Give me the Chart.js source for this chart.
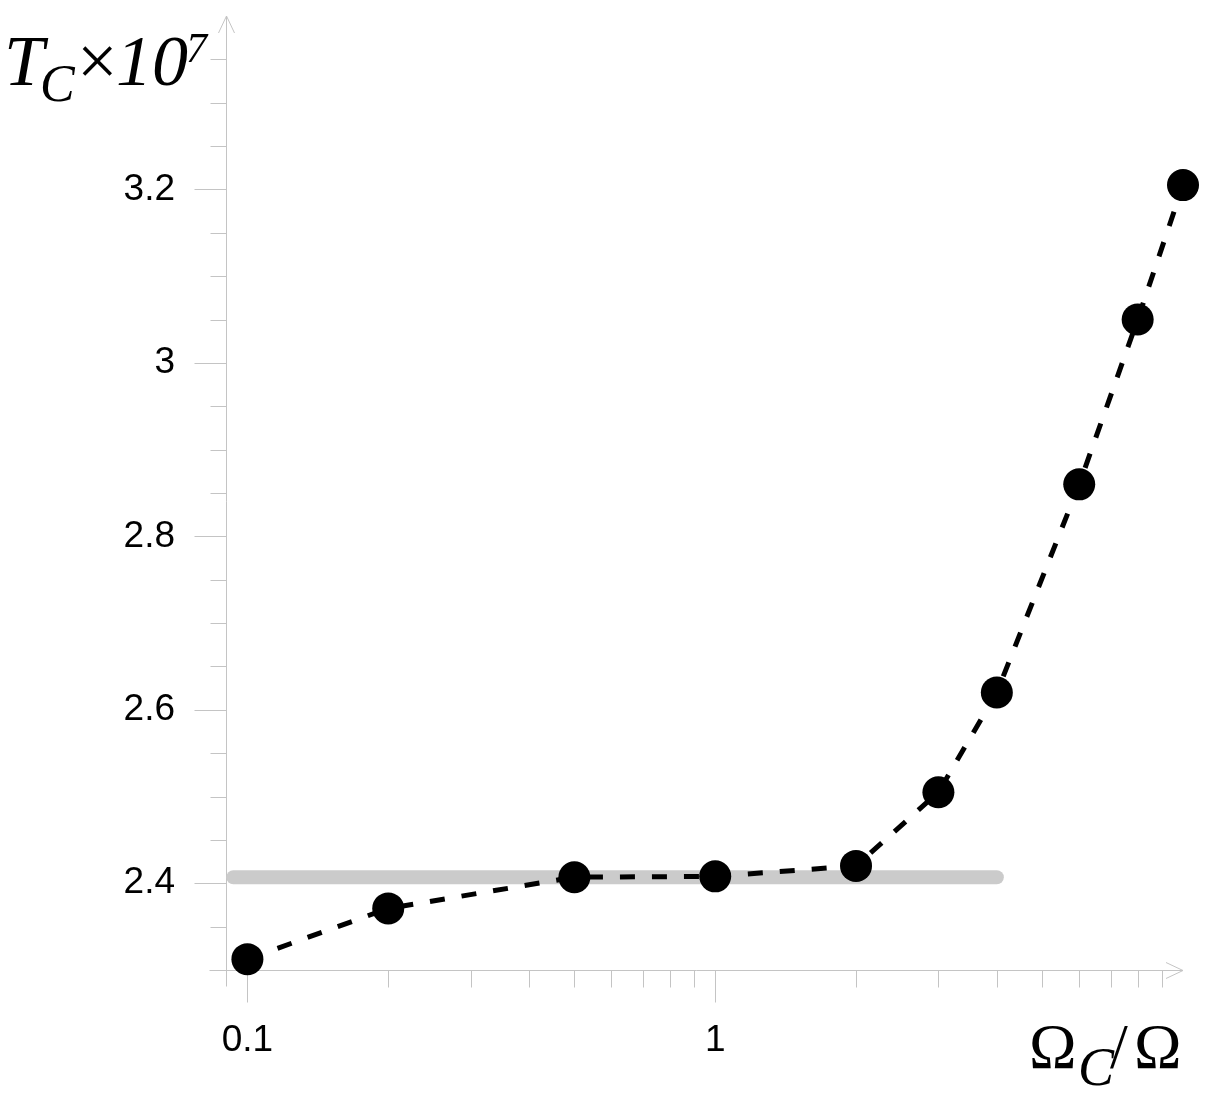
<!DOCTYPE html>
<html>
<head>
<meta charset="utf-8">
<script src="https://cdn.jsdelivr.net/npm/chart.js@4/dist/chart.umd.min.js"></script>
<style>
  html, body { margin: 0; padding: 0; background: #fff; }
  #wrap { width: 1220px; height: 1094px; }
</style>
</head>
<body>
<div id="wrap"><canvas id="c" width="1220" height="1094"></canvas></div>
<script>
// ---- data ----
const omegaRatio = [0.1, 0.2, 0.5, 1, 2, 3, 4, 6, 8, 10];
const tcValues   = [2.3125, 2.371, 2.407, 2.408, 2.420, 2.505, 2.620, 2.860, 3.050, 3.205];
const refLineX   = [0.0933, 4];
const refLineY   = [2.407, 2.407];

// ---- axis ticks ----
const xMajorTicks = [0.1, 1];
const xTickLabels = ['0.1', '1'];
const xMinorTicks = [0.2, 0.3, 0.4, 0.5, 0.6, 0.7, 0.8, 0.9, 2, 3, 4, 5, 6, 7, 8, 9];
const yMajorTicks = [2.4, 2.6, 2.8, 3.0, 3.2];
const yTickLabels = ['2.4', '2.6', '2.8', '3', '3.2'];
const yMinorTicks = [2.3, 2.35, 2.45, 2.5, 2.55, 2.65, 2.7, 2.75, 2.85, 2.9, 2.95, 3.05, 3.1, 3.15, 3.25, 3.3, 3.35];
const xRange = [0.09, 10];
const yRange = [2.3, 3.4];

const AXIS_COLOR = '#c4c4c4';

function labelFor(v, majors, labels) {
  for (let i = 0; i < majors.length; i++) {
    if (Math.abs(v - majors[i]) < 1e-6) return labels[i];
  }
  return '';
}

const axesPlugin = {
  id: 'axesPlugin',
  beforeDatasetsDraw(chart) {
    const { ctx, chartArea: a, scales } = chart;
    const xs = scales.x, ys = scales.y;
    const L = Math.round(a.left) + 0.5;
    const B = Math.round(a.bottom) + 0.5;
    const T = a.top, R = a.right;
    ctx.save();
    ctx.strokeStyle = AXIS_COLOR;
    ctx.lineWidth = 1;
    ctx.beginPath();
    // vertical axis
    ctx.moveTo(L, B + 16); ctx.lineTo(L, T);
    ctx.moveTo(L - 8, T + 17); ctx.lineTo(L, T); ctx.lineTo(L + 8, T + 17);
    // horizontal axis
    ctx.moveTo(L - 17, B); ctx.lineTo(R, B);
    ctx.moveTo(R - 17, B - 8); ctx.lineTo(R, B); ctx.lineTo(R - 17, B + 8);
    // y ticks
    yMajorTicks.forEach(v => {
      const p = Math.round(ys.getPixelForValue(v)) + 0.5;
      ctx.moveTo(L - 32, p); ctx.lineTo(L, p);
    });
    yMinorTicks.forEach(v => {
      const p = Math.round(ys.getPixelForValue(v)) + 0.5;
      ctx.moveTo(L - 16, p); ctx.lineTo(L, p);
    });
    // x ticks
    xMajorTicks.forEach(v => {
      const p = Math.round(xs.getPixelForValue(v)) + 0.5;
      ctx.moveTo(p, B); ctx.lineTo(p, B + 32);
    });
    xMinorTicks.forEach(v => {
      const p = Math.round(xs.getPixelForValue(v)) + 0.5;
      ctx.moveTo(p, B); ctx.lineTo(p, B + 17);
    });
    ctx.stroke();
    ctx.restore();
  },
  afterDraw(chart) {
    const { ctx } = chart;
    ctx.save();
    ctx.fillStyle = '#000';
    ctx.textBaseline = 'alphabetic';
    ctx.textAlign = 'left';
    const serif = '"Liberation Serif", "DejaVu Serif", serif';
    // y-axis title: T_C ×10^7
    ctx.font = 'italic 72px ' + serif;
    ctx.fillText('T', 4, 85);
    ctx.font = 'italic 52px ' + serif;
    ctx.fillText('C', 40, 101);
    ctx.font = '72px ' + serif;
    ctx.fillText('\u00D7', 77, 85);
    ctx.font = 'italic 72px ' + serif;
    ctx.fillText('10', 116, 85);
    ctx.font = 'italic 42px ' + serif;
    ctx.fillText('7', 186, 62);
    // x-axis title: Ω_C/Ω
    ctx.font = '64px ' + serif;
    ctx.fillText('\u03A9', 1029, 1068);
    ctx.font = 'italic 54px ' + serif;
    ctx.fillText('C', 1078, 1085);
    ctx.font = '64px ' + serif;
    ctx.fillText('/', 1110, 1068);
    ctx.fillText('\u03A9', 1134, 1068);
    ctx.restore();
  }
};

new Chart(document.getElementById('c'), {
  type: 'scatter',
  data: {
    datasets: [
      {
        data: omegaRatio.map((x, i) => ({ x: x, y: tcValues[i] })),
        showLine: true,
        borderColor: '#000',
        borderWidth: 5,
        borderDash: [15, 17],
        backgroundColor: '#000',
        pointRadius: 16,
        pointBackgroundColor: '#000',
        pointBorderWidth: 0,
        clip: false,
        order: 0
      },
      {
        data: refLineX.map((x, i) => ({ x: x, y: refLineY[i] })),
        showLine: true,
        borderColor: '#cbcbcb',
        borderWidth: 14,
        borderCapStyle: 'round',
        pointRadius: 0,
        clip: false,
        order: 1
      }
    ]
  },
  options: {
    responsive: false,
    animation: false,
    events: [],
    layout: { padding: { top: 13, right: 37, left: 0, bottom: 0 } },
    plugins: { legend: { display: false }, tooltip: { enabled: false } },
    scales: {
      x: {
        type: 'logarithmic',
        min: xRange[0], max: xRange[1],
        border: { display: false },
        grid: { display: false, drawTicks: false },
        afterBuildTicks: s => { s.ticks = xMajorTicks.concat(xMinorTicks).map(v => ({ value: v })); },
        afterFit: s => { s.height = 124; s.paddingLeft = 0; s.paddingRight = 0; },
        ticks: {
          autoSkip: false, maxRotation: 0, padding: 49,
          color: '#000',
          font: { family: '"Liberation Sans", Arial, sans-serif', size: 37 },
          callback: v => labelFor(v, xMajorTicks, xTickLabels)
        }
      },
      y: {
        type: 'linear',
        min: yRange[0], max: yRange[1],
        border: { display: false },
        grid: { display: false, drawTicks: false },
        afterBuildTicks: s => { s.ticks = yMajorTicks.concat(yMinorTicks).map(v => ({ value: v })); },
        afterFit: s => { s.width = 226; s.paddingTop = 0; s.paddingBottom = 0; },
        ticks: {
          autoSkip: false, padding: 51,
          color: '#000',
          font: { family: '"Liberation Sans", Arial, sans-serif', size: 37 },
          callback: v => labelFor(v, yMajorTicks, yTickLabels)
        }
      }
    }
  },
  plugins: [axesPlugin]
});
</script>
</body>
</html>
